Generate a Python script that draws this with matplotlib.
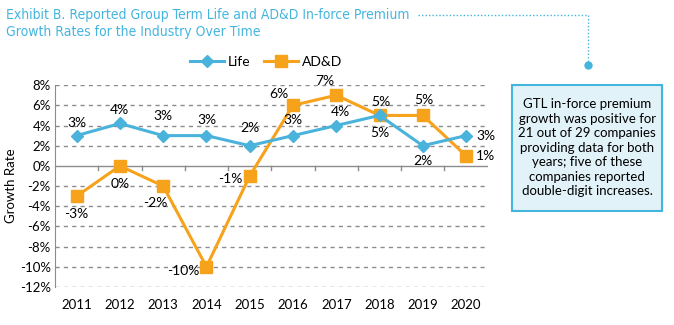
import matplotlib.pyplot as plt
from matplotlib.lines import Line2D
from matplotlib.patches import FancyBboxPatch

plt.rcParams['font.family'] = ['Lato', 'DejaVu Sans']

years = ['2011', '2012', '2013', '2014', '2015', '2016', '2017', '2018', '2019', '2020']
life = [3, 4.2, 3, 3, 2, 3, 4, 5, 2, 3]
add = [-3, 0, -2, -10, -1, 6, 7, 5, 5, 1]
life_labels = ['3%', '4%', '3%', '3%', '2%', '3%', '4%', '5%', '2%', '3%']
add_labels = ['-3%', '0%', '-2%', '-10%', '-1%', '6%', '7%', '5%', '5%', '1%']
yticks = [8, 6, 4, 2, 0, -2, -4, -6, -8, -10, -12]

blue = '#4ab3dc'
orange = '#f7a21b'
title_blue = '#45b5de'

fig = plt.figure(figsize=(6.74, 3.25), dpi=100)
ax = fig.add_axes([0.0816, 0.117, 0.642, 0.621])

x = list(range(len(years)))
ax.plot(x, life, color=blue, lw=2.2, marker='D', ms=6.5, zorder=4, label='Life')
ax.plot(x, add, color=orange, lw=2.2, marker='s', ms=9, zorder=3, label='AD&D')

ax.set_xlim(-0.5, 9.5)
ax.set_ylim(-12, 8)
ax.set_yticks(yticks)
ax.set_yticklabels([f'{v}%' for v in yticks], fontsize=9.5)
ax.set_xticks(x)
ax.set_xticklabels(years, fontsize=9.5)
ax.tick_params(axis='x', length=0, pad=9)
ax.tick_params(axis='y', length=0, pad=3)
for v in yticks:
    if v != 0:
        ax.axhline(v, color='#8c8c8c', lw=1, ls=(0, (3, 3)), zorder=1)
ax.axhline(0, color='#8c8c8c', lw=1, zorder=1)
for b in range(1, 10):
    ax.plot([b - 0.5, b - 0.5], [0, -0.45], color='#8c8c8c', lw=1, zorder=1)
for s in ['top', 'right', 'bottom']:
    ax.spines[s].set_visible(False)
ax.spines['left'].set_color('#8c8c8c')
ax.set_ylabel('Growth Rate', fontsize=9.5, labelpad=2)

# data labels (offsets in points)
life_off = [(0, 9), (0, 10), (0, 14), (0, 11), (0, 13), (0, 11), (3, 10), (0, -13), (0, -11), (14, 0)]
add_off = [(0, -13), (0, -13), (-6, -12), (-17, -3), (-14, -2), (-10, 8), (-8, 10), (1, 10), (1, 11), (14, 0)]
for i in x:
    ax.annotate(life_labels[i], (i, life[i]), xytext=life_off[i], textcoords='offset points',
                ha='center', va='center', fontsize=10)
    ax.annotate(add_labels[i], (i, add[i]), xytext=add_off[i], textcoords='offset points',
                ha='center', va='center', fontsize=10)

handles = [Line2D([], [], color=blue, lw=2.2, marker='D', ms=6.5),
           Line2D([], [], color=orange, lw=2.2, marker='s', ms=9)]
fig.legend(handles, ['Life', 'AD&D'], loc='center', bbox_to_anchor=(0.395, 0.81), ncol=2,
           frameon=False, fontsize=10, handlelength=2.4, columnspacing=1.0, handletextpad=0.3)

title = fig.text(0.009, 0.975, 'Exhibit B. Reported Group Term Life and AD&D In-force Premium\nGrowth Rates for the Industry Over Time',
                 color=title_blue, fontsize=10, va='top', ha='left', linespacing=1.25,
                 family=['DejaVu Sans'], fontstretch='condensed')

# dotted connector starting just after the title's first line
fig.canvas.draw()
bb = title.get_window_extent().transformed(fig.transFigure.inverted())
x0 = bb.x1 + 0.012
fig.add_artist(Line2D([x0, 0.872], [0.955, 0.955], color=title_blue, lw=1, ls=(0, (1, 1.5))))
fig.add_artist(Line2D([0.872, 0.872], [0.955, 0.81], color=title_blue, lw=1, ls=(0, (1, 1.5))))
fig.add_artist(Line2D([0.872], [0.8], color=title_blue, marker='o', ms=5, ls='none'))

box = FancyBboxPatch((0.760, 0.351), 0.222, 0.388, boxstyle='square,pad=0',
                     transform=fig.transFigure, facecolor='#e2f2f9', edgecolor=title_blue, lw=1.5)
fig.add_artist(box)
fig.text(0.871, 0.545, 'GTL in-force premium\ngrowth was positive for\n21 out of 29 companies\nproviding data for both\nyears; five of these\ncompanies reported\ndouble-digit increases.',
         ha='center', va='center', fontsize=9.5, linespacing=1.25)

fig.savefig('out.png', dpi=100)
